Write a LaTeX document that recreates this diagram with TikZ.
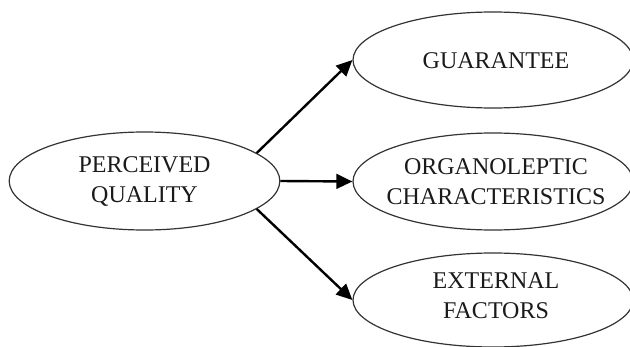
\documentclass[tikz,border=0pt]{standalone}
\usepackage{fontspec}
\setmainfont{Liberation Serif}
\usetikzlibrary{shapes.geometric,arrows.meta}
\definecolor{outline}{HTML}{333333}
\definecolor{ink}{HTML}{1A1A1A}
\begin{document}
\begin{tikzpicture}[x=0.75pt,y=-0.75pt,
  oval/.style={ellipse,draw=outline,line width=0.9pt,inner sep=0pt,
    minimum width=#1},
  oval/.default=210pt,
  label text/.style={text=ink,align=center,inner sep=0pt,
    font=\fontsize{18pt}{22.5pt}\selectfont},
  link/.style={draw=black,line width=1.8pt,
    -{Triangle[length=12pt,width=11pt]}}]
  \useasboundingbox (0,0) rectangle (630,346);

  % source concept
  \node[oval=203pt,minimum height=73.5pt] (pq) at (144.5,181) {};
  \node[label text] (pqt) at (pq.center) {PERCEIVED\\QUALITY};

  % its three components
  \node[oval,minimum height=72pt] (gu) at (493,60) {};
  \node[label text] (gut) at (496,60.5) {GUARANTEE};

  \node[oval,minimum height=72.75pt] (oc) at (493,181.5) {};
  \node[label text] (oct) at (496,182) {ORGANOLEPTIC\\CHARACTERISTICS};

  \node[oval,minimum height=70.5pt] (ef) at (493,300) {};
  \node[label text] (eft) at (496,296) {EXTERNAL\\FACTORS};

  % arrows
  \draw[link] (pq.14) -- (gu.west);
  \draw[link] (pq.east) -- (oc.west);
  \draw[link] (pq.-14) -- (ef.west);
\end{tikzpicture}
\end{document}
